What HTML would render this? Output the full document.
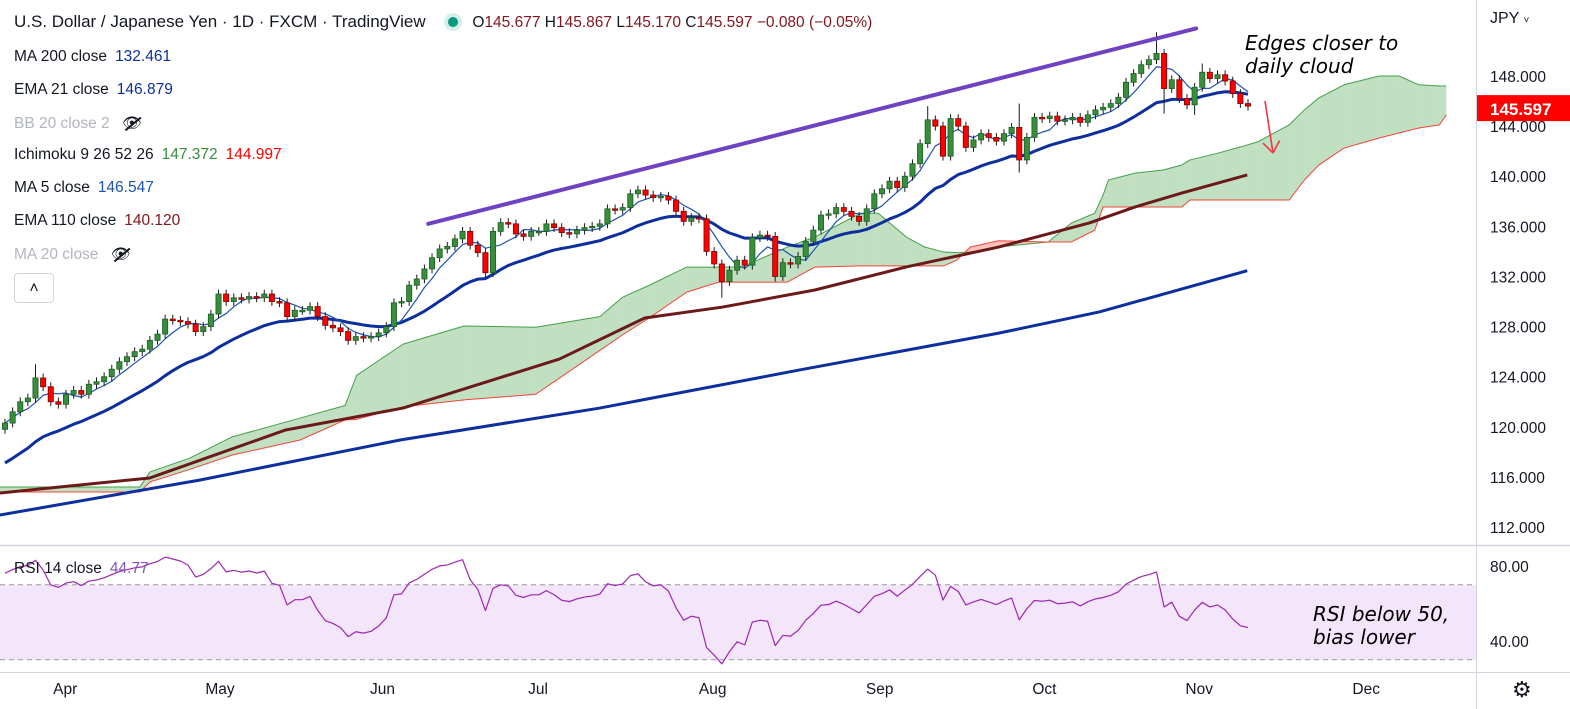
<!DOCTYPE html>
<html><head><meta charset="utf-8"><title>USDJPY chart</title>
<style>
html,body{margin:0;padding:0;background:#fff;}
body{width:1570px;height:709px;overflow:hidden;position:relative;font-family:"Liberation Sans",sans-serif;color:#131722;}
svg{position:absolute;left:0;top:0;}
.lg{position:absolute;left:14px;font-size:15.5px;color:#131722;white-space:nowrap;}
.lg span.v{margin-left:8px;}
.dim{color:#b2b5be;}
.ann{position:absolute;font-family:"DejaVu Sans","Liberation Sans",sans-serif;font-style:italic;font-size:20px;line-height:23px;color:#000;}
.eye{position:relative;display:inline-block;margin-left:8px;color:#131722;}
.eye:after{content:"";position:absolute;left:1px;top:9px;width:20px;height:1.6px;background:#131722;transform:rotate(-40deg);}
</style></head><body>
<svg id="chart" width="1570" height="709"></svg>

<div class="lg" style="top:12px;font-size:17px;">U.S. Dollar / Japanese Yen · 1D · FXCM · TradingView
<span style="display:inline-block;width:10px;height:10px;border-radius:50%;background:#089981;box-shadow:0 0 0 4px #d5eee9;margin:0 14px 0 18px;"></span><span style="font-size:15.5px"><span style="color:#131722">O</span><span style="color:#801922">145.677</span> <span>H</span><span style="color:#801922">145.867</span> <span>L</span><span style="color:#801922">145.170</span> <span>C</span><span style="color:#801922">145.597 −0.080 (−0.05%)</span></span></div>
<div class="lg" style="top:48px">MA 200 close<span class="v" style="color:#0d2f9e">132.461</span></div>
<div class="lg" style="top:81px">EMA 21 close<span class="v" style="color:#0d2f9e">146.879</span></div>
<div class="lg dim" style="top:114px">BB 20 close 2 <span class="eye">&#x1F441;&#xFE0E;</span></div>
<div class="lg" style="top:146px">Ichimoku 9 26 52 26<span class="v" style="color:#388e3c">147.372</span><span class="v" style="color:#f00">144.997</span></div>
<div class="lg" style="top:179px">MA 5 close<span class="v" style="color:#1e53b3">146.547</span></div>
<div class="lg" style="top:212px">EMA 110 close<span class="v" style="color:#801922">140.120</span></div>
<div class="lg dim" style="top:245px">MA 20 close <span class="eye">&#x1F441;&#xFE0E;</span></div>
<div style="position:absolute;left:14px;top:273px;width:38px;height:28px;border:1px solid #d1d4dc;border-radius:4px;text-align:center;font-size:16px;line-height:30px;">&#x2C4;</div>
<div class="lg" style="top:560px;font-size:15.5px">RSI 14 close<span class="v" style="color:#7e57c2">44.77</span></div>
<div style="position:absolute;left:1490px;top:10px;font-size:16px;color:#131722">JPY <span style="font-size:10px">&#x2C5;</span></div>
<div class="ann" style="left:1245px;top:32px">Edges closer to<br>daily cloud</div>
<div class="ann" style="left:1313px;top:603px">RSI below 50,<br>bias lower</div>
<div style="position:absolute;left:1512px;top:677px;font-size:22px;color:#131722">&#x2699;</div>

<script>
// ---- data ----
const closes = [120.3,121.2,122.0,122.3,123.9,123.2,122.0,121.8,122.6,122.9,
122.6,123.4,123.6,124.0,124.6,125.2,125.6,126.0,126.2,126.9,
127.4,128.6,128.5,128.4,128.2,127.6,128.0,129.0,130.6,130.0,
130.3,130.2,130.4,130.3,130.6,130.0,129.9,128.8,129.3,129.3,
129.6,128.8,128.1,127.9,127.6,126.9,127.2,127.1,127.2,127.5,
128.0,129.9,130.0,131.3,131.8,132.6,133.5,134.2,134.4,135.0,
135.6,134.5,133.9,132.3,135.6,136.3,136.2,135.4,135.2,135.6,
135.6,136.2,135.9,135.5,135.4,135.7,135.9,136.0,136.2,137.4,
137.3,137.5,138.6,138.9,138.5,138.3,138.4,138.1,137.2,136.4,
136.7,136.6,134.0,133.0,131.6,132.5,133.3,132.9,135.1,135.3,
135.2,132.0,133.1,133.0,133.6,134.8,135.7,136.9,137.0,137.5,
137.2,136.8,136.4,137.4,138.6,139.0,139.6,139.1,140.0,141.0,
142.6,144.5,144.0,141.6,144.6,144.0,142.3,142.9,143.4,143.1,
142.8,143.4,143.9,141.3,143.1,144.7,144.6,144.8,144.4,144.5,
144.7,144.3,144.9,145.3,145.5,145.8,146.3,147.5,148.2,148.9,
149.3,149.8,147.0,147.7,146.2,145.7,147.1,148.3,147.8,148.1,
147.6,146.6,145.8,145.6];
const firstOpen = 119.8;
const wickSize = 0.35;
const highOverrides = [[4,125.0],[151,151.5],[121,145.6],[133,145.8],[157,149.0]];
const lowOverrides = [[94,130.3],[133,140.3],[152,145.0],[156,144.9],[101,131.6]];
const ema21Seed = 116.8;
const rsiSeedGain = 0.6;
const rsiSeedLoss = 0.2;
const cloudBars = [-0.7,17.7,19,24.2,29.8,38.7,44.6,46.1,52.2,60.2,69.6,78,81,84.5,89.4,93.6,96.6,102.6,106.2,112.2,114.5,118.2,120.6,123.1,124.8,126.6,130.3,136.8,139.8,142.9,144,144.7,148.2,151.9,154.3,155.4,159.1,162.1,164.3,168.4,170.4,172.3,175.6,180.2,182.8,185.4,188.1,189];
const spanA = [115.2,115.2,116.4,117.5,119.2,120.7,121.7,124.1,126.6,128.05,127.95,128.8,130.35,131.3,132.75,132.75,132.75,134.35,135.15,137.05,137.05,135.15,134.35,133.95,133.9,133.95,134.35,134.75,136.25,137.05,138.5,139.7,140.25,140.5,140.9,141.3,141.85,142.35,142.75,144.1,145.3,146.25,147.3,148.0,148.0,147.3,147.2,147.2];
const spanB = [114.8,114.8,115.6,116.6,117.75,118.95,120.55,120.6,121.6,122.15,122.6,126.1,127.35,128.7,130.75,131.55,131.55,131.55,132.75,132.85,132.85,132.85,132.85,132.85,133.3,134.35,134.85,134.75,134.75,135.7,137.55,137.55,137.55,137.55,137.55,138.1,138.1,138.1,138.1,138.1,139.7,140.9,142.25,143.05,143.45,143.85,144.1,144.9];
const ema110Bars = [-0.7,19,36.8,52.2,72.7,83.9,94.1,106.2,118.2,130.3,142.2,148.2,154.3,162.9];
const ema110Vals = [114.72,115.92,119.75,121.5,125.41,128.69,129.56,130.92,132.76,134.35,136.27,137.55,138.66,140.1];
const ma200Bars = [-0.7,25.6,51.8,78,104.2,130.4,143.5,162.9];
const ma200Vals = [112.96,115.76,118.95,121.5,124.54,127.49,129.17,132.46];
const priceTicks = [148,144,140,136,132,128,124,120,116,112];
const rsiTicks = [80,40];
const monthLabels = ["Apr","May","Jun","Jul","Aug","Sep","Oct","Nov","Dec"];
const monthBars = [7.9,28.2,49.5,69.9,92.8,114.7,136.3,156.6,178.5];
const trendStart = [55.5,136.2];
const trendEnd = [156.2,151.8];
const lastPrice = 145.597;

// ---- scales ----
const NS='http://www.w3.org/2000/svg';
const svg=document.getElementById('chart');
const dx=1243/(closes.length-1);
const X=i=>5+i*dx;
const Y=p=>76+(148-p)*12.53;
const RY=v=>566+(80-v)*1.875;
function el(tag,attrs,parent){const e=document.createElementNS(NS,tag);for(const k in attrs)e.setAttribute(k,attrs[k]);(parent||svg).appendChild(e);return e;}

const defs=el('defs',{});
const cp=el('clipPath',{id:'mainclip'},defs);el('rect',{x:0,y:0,width:1476,height:545},cp);
const cr=el('clipPath',{id:'rsiclip'},defs);el('rect',{x:0,y:546,width:1476,height:126},cr);

let f;
f=el('line',{x1:1476.5,y1:0,x2:1476.5,y2:709,stroke:'#d1d4dc','stroke-width':1});

f=el('line',{x1:0,y1:545.5,x2:1570,y2:545.5,stroke:'#d1d4dc','stroke-width':1.5});

f=el('line',{x1:0,y1:672.5,x2:1570,y2:672.5,stroke:'#d1d4dc','stroke-width':1});


const main=el('g',{'clip-path':'url(#mainclip)'});


for(let k=0;k<cloudBars.length-1;k++){
  const x1=X(cloudBars[k]),x2=X(cloudBars[k+1]);
  const a1=spanA[k],a2=spanA[k+1],b1=spanB[k],b2=spanB[k+1];
  const d1=a1-b1,d2=a2-b2;
  const seg=(xa,xb,ya1,ya2,yb1,yb2,col)=>{const p=el('polygon',{points:`${xa},${Y(ya1)} ${xb},${Y(ya2)} ${xb},${Y(yb2)} ${xa},${Y(yb1)}`,fill:col,stroke:'none'},main);
    };
  if(d1*d2<0){const t=d1/(d1-d2);const xm=x1+(x2-x1)*t;const pm=a1+(a2-a1)*t;
    seg(x1,xm,a1,pm,b1,pm,d1>=0?'rgba(67,160,71,0.33)':'rgba(244,67,54,0.33)');
    seg(xm,x2,pm,a2,pm,b2,d2>=0?'rgba(67,160,71,0.33)':'rgba(244,67,54,0.33)');}
  else seg(x1,x2,a1,a2,b1,b2,(d1+d2)>=0?'rgba(67,160,71,0.33)':'rgba(244,67,54,0.33)');
}
function polyline(bars,vals,color,w,name,parent,yfn){const pts=bars.map((b,i)=>X(b)+','+(yfn||Y)(vals[i])).join(' ');
  const l=el('polyline',{points:pts,fill:'none',stroke:color,'stroke-width':w,'stroke-linejoin':'round'},parent||main);
  return l;}
polyline(cloudBars,spanA,'#43a047',1,'ichimoku-span-a');
polyline(cloudBars,spanB,'#f44336',1,'ichimoku-span-b');
polyline(ma200Bars,ma200Vals,'#0d2f9e',3,'ma200-line');
polyline(ema110Bars,ema110Vals,'#6b1a1a',3,'ema110-line');

const idx=closes.map((_,i)=>i);
const ema21=[];let e=ema21Seed;const al=2/22;
closes.forEach(c=>{e=e+al*(c-e);ema21.push(e);});
const ma5=closes.map((c,i)=>{const s=closes.slice(Math.max(0,i-4),i+1);return s.reduce((a,b)=>a+b,0)/s.length;});
polyline(idx,ema21,'#0d2f9e',3,'ema21-line');
polyline(idx,ma5,'#1e53b3',1.2,'ma5-line');

const hiMap={},loMap={};highOverrides.forEach(([i,v])=>hiMap[i]=v);lowOverrides.forEach(([i,v])=>loMap[i]=v);
closes.forEach((c,i)=>{
  const o=i===0?firstOpen:closes[i-1];
  const up=c>=o;
  const hi=hiMap[i]!==undefined?hiMap[i]:Math.max(o,c)+wickSize;
  const lo=loMap[i]!==undefined?loMap[i]:Math.min(o,c)-wickSize;
  const x=X(i);
  const g=el('g',{},main);
  
  el('line',{x1:x,y1:Y(hi),x2:x,y2:Y(lo),stroke:'#1a1a1a','stroke-width':1},g);
  const top=Y(Math.max(o,c)),h=Math.max(1.5,Math.abs(Y(o)-Y(c)));
  el('rect',{x:x-2.6,y:top,width:5.2,height:h,fill:up?'#388e3c':'#ff0000',stroke:up?'#1b5e20':'#7a0000','stroke-width':0.8},g);
});

f=el('line',{x1:X(trendStart[0]),y1:Y(trendStart[1]),x2:X(trendEnd[0]),y2:Y(trendEnd[1]),stroke:'#6f42c1','stroke-width':4,'stroke-linecap':'round'},main);


function arrow(x1,y1,x2,y2,name){const g=el('g',{stroke:'#f23645','stroke-width':1.6,fill:'none'});
  
  el('line',{x1,y1,x2,y2},g);const a=Math.atan2(y2-y1,x2-x1);
  [a+2.5,a-2.5].forEach(b=>el('line',{x1:x2,y1:y2,x2:x2+14*Math.cos(b),y2:y2+14*Math.sin(b)},g));}
arrow(1265,101,1273,153,'cloud-arrow');
arrow(1277,597,1285,649,'rsi-arrow');

priceTicks.forEach(p=>{const t=el('text',{x:1490,y:Y(p)+6,'font-size':15.5,fill:'#131722','font-family':'Liberation Sans, sans-serif'});t.textContent=p.toFixed(3);
  });
const tag=el('g',{});
el('rect',{x:1477,y:Y(lastPrice)-11,width:93,height:26,fill:'#ff0000'},tag);
const tt=el('text',{x:1490,y:Y(lastPrice)+9,'font-size':17,'font-weight':'bold',fill:'#fff','font-family':'Liberation Sans, sans-serif'},tag);tt.textContent=lastPrice.toFixed(3);

const rsiG=el('g',{'clip-path':'url(#rsiclip)'});
f=el('rect',{x:0,y:RY(70),width:1476,height:RY(30)-RY(70),fill:'#f3e5fa'},rsiG);
[70,30].forEach(v=>{const l=el('line',{x1:0,y1:RY(v),x2:1476,y2:RY(v),stroke:'#9598a1','stroke-width':1,'stroke-dasharray':'5,4'},rsiG);});
const rsi=[];let ag=rsiSeedGain,alo=rsiSeedLoss;
closes.forEach((c,i)=>{const o=i===0?firstOpen:closes[i-1];const ch=c-o;ag=(ag*13+Math.max(ch,0))/14;alo=(alo*13+Math.max(-ch,0))/14;rsi.push(100-100/(1+ag/alo));});
polyline(idx,rsi,'#9c27b0',1.2,'rsi-line',rsiG,RY);
rsiTicks.forEach(v=>{const t=el('text',{x:1490,y:RY(v)+6,'font-size':15.5,fill:'#131722','font-family':'Liberation Sans, sans-serif'});t.textContent=v.toFixed(2);
  });

monthLabels.forEach((m,i)=>{const t=el('text',{x:X(monthBars[i]),y:694,'font-size':15.5,fill:'#131722','text-anchor':'middle','font-family':'Liberation Sans, sans-serif'});t.textContent=m;
  });
</script>
</body></html>
